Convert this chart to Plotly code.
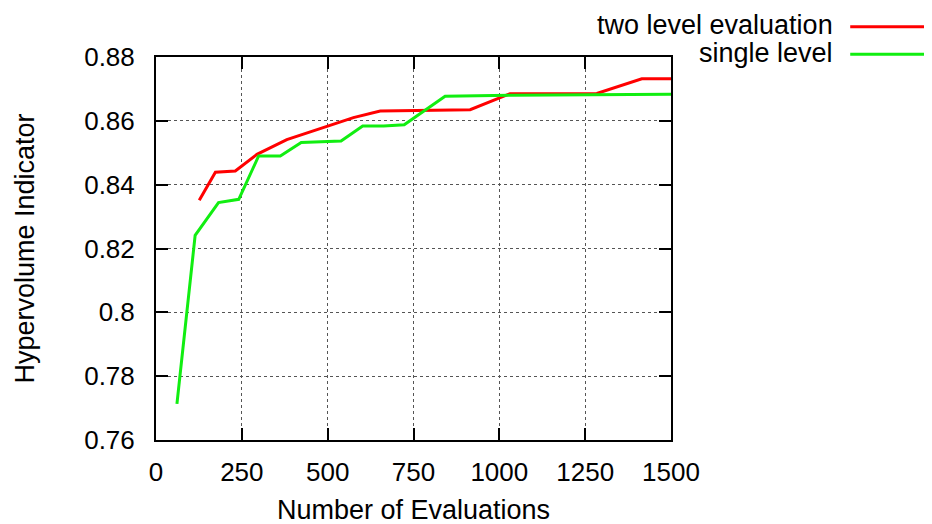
import plotly.graph_objects as go

# two level evaluation (red)
two_level_x = [126, 173, 231, 294, 381, 507, 575, 653, 857, 915, 1031, 1284, 1415, 1500]
two_level_y = [0.8351, 0.8439, 0.8443, 0.8495, 0.8541, 0.8586, 0.8610, 0.8631, 0.8635, 0.8635, 0.8685, 0.8686, 0.8732, 0.8732]

# single level (green)
single_x = [61, 114, 182, 241, 299, 362, 423, 539, 602, 663, 723, 842, 1031, 1500]
single_y = [0.7713, 0.8241, 0.8344, 0.8354, 0.8490, 0.8490, 0.8532, 0.8537, 0.8584, 0.8584, 0.8588, 0.8677, 0.8680, 0.8683]

y_ticks = [0.76, 0.78, 0.80, 0.82, 0.84, 0.86, 0.88]
y_tick_text = ["0.76", "0.78", "0.8", "0.82", "0.84", "0.86", "0.88"]
x_ticks = [0, 250, 500, 750, 1000, 1250, 1500]

names = ["two level evaluation", "single level"]
colors = ["#ff0000", "#11ee11"]

font = "Liberation Sans, Arial, sans-serif"

fig = go.Figure()
fig.add_trace(go.Scatter(x=two_level_x, y=two_level_y, mode="lines", name=names[0],
                         line=dict(color=colors[0], width=3)))
fig.add_trace(go.Scatter(x=single_x, y=single_y, mode="lines", name=names[1],
                         line=dict(color=colors[1], width=3)))

axis_common = dict(
    showline=True, linecolor="black", linewidth=2, mirror="ticks",
    ticks="inside", ticklen=12, tickwidth=2, tickcolor="black",
    showgrid=True, gridcolor="#555555", gridwidth=1, griddash="dot",
    zeroline=False, tickfont=dict(size=26, color="black", family=font),
)

fig.update_xaxes(range=[0, 1500], tickvals=x_ticks, ticklabelstandoff=8,
                 title=dict(text="Number of Evaluations", font=dict(size=27, family=font, color="black"), standoff=14),
                 **axis_common)
fig.update_yaxes(range=[0.76, 0.88], tickvals=y_ticks, ticktext=y_tick_text, ticklabelstandoff=14,
                 title=dict(text="Hypervolume Indicator", font=dict(size=27, family=font, color="black"), standoff=42),
                 **axis_common)

# legend drawn gnuplot-style: text right-aligned, line sample to the right
legend_y = [1.079, 1.007]
for name, color, ly in zip(names, colors, legend_y):
    fig.add_annotation(xref="paper", yref="paper", x=1.318, y=ly + 0.004, text=name, showarrow=False,
                       xanchor="right", yanchor="middle", font=dict(size=27, family=font, color="black"))
    fig.add_shape(type="line", xref="paper", yref="paper", x0=1.348, x1=1.503, y0=ly, y1=ly,
                  line=dict(color=color, width=3))

fig.update_layout(
    width=932, height=524,
    margin=dict(l=148, r=269, t=49, b=92),
    plot_bgcolor="white", paper_bgcolor="white",
    showlegend=False,
    font=dict(family=font, color="black"),
)

fig.write_html("out.html")
